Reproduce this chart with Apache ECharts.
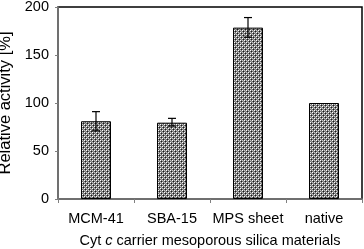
<!DOCTYPE html>
<html><head><meta charset="utf-8">
<script src="https://cdn.jsdelivr.net/npm/echarts@6/dist/echarts.min.js"></script>
<style>html,body{margin:0;padding:0;background:#fff}#c{width:364px;height:249px}</style>
</head><body><div id="c"></div>
<script>
var categories = ['MCM-41', 'SBA-15', 'MPS sheet', 'native'];
var activity = [81, 79.5, 178.5, 100];
var errLow = [71, 76, 168.5, null];
var errHigh = [91, 84, 189, null];
var yTicks = [0, 50, 100, 150, 200];

// checkered fill pattern
var pc = document.createElement('canvas');
pc.width = 4; pc.height = 4;
var ctx = pc.getContext('2d');
var pal = [
  ['#ffffff', '#707070', '#c8c8c8', '#707070'],
  ['#707070', '#1a1a1a', '#707070', '#a0a0a0'],
  ['#c8c8c8', '#707070', '#ffffff', '#707070'],
  ['#707070', '#a0a0a0', '#707070', '#1a1a1a']
];
for (var i = 0; i < 4; i++) for (var j = 0; j < 4; j++) { ctx.fillStyle = pal[i][j]; ctx.fillRect(j, i, 1, 1); }

var errData = [];
for (var k = 0; k < categories.length; k++) {
  if (errLow[k] != null) errData.push([k, errLow[k], errHigh[k]]);
}

var chart = echarts.init(document.getElementById('c'), null, {renderer: 'canvas'});
chart.setOption({
  animation: false,
  grid: {left: 58, right: 2, top: 7, bottom: 50, outerBoundsMode: 'none', containLabel: false, show: true, borderColor: '#000', borderWidth: 1.5, backgroundColor: 'transparent'},
  xAxis: {
    type: 'category', data: categories,
    axisLine: {lineStyle: {color: '#808080', width: 1.5}},
    axisTick: {show: true, length: 4, lineStyle: {color: '#808080'}},
    axisLabel: {color: '#000', fontSize: 14.5, fontFamily: 'Liberation Sans', margin: 12, interval: 0},
    name: '{n|Cyt }{i|c}{n| carrier mesoporous silica materials}',
    nameLocation: 'middle', nameGap: 34,
    nameTextStyle: {rich: {n: {fontSize: 14.5, fontFamily: 'Liberation Sans', color: '#000'}, i: {fontSize: 14.5, fontFamily: 'Liberation Sans', fontStyle: 'italic', color: '#000'}}}
  },
  yAxis: {
    type: 'value', min: 0, max: 200, interval: 50,
    splitLine: {show: false},
    axisLine: {show: true, lineStyle: {color: '#808080', width: 1.5}},
    axisTick: {show: true, length: 3, lineStyle: {color: '#808080'}},
    axisLabel: {color: '#000', fontSize: 14.5, fontFamily: 'Liberation Sans', margin: 9},
    name: 'Relative activity [%]', nameLocation: 'middle', nameGap: 37,
    nameTextStyle: {color: '#000', fontSize: 16.5, fontFamily: 'Liberation Sans'}
  },
  series: [{
    type: 'bar', data: activity, barWidth: 30,
    itemStyle: {color: {image: pc, repeat: 'repeat'}, borderColor: '#000', borderWidth: 1}
  }, {
    type: 'custom', data: errData,
    renderItem: function (params, api) {
      var x = api.value(0);
      var lo = api.coord([x, api.value(1)]);
      var hi = api.coord([x, api.value(2)]);
      var hw = 4;
      var st = {stroke: '#000', lineWidth: 1.2};
      return {type: 'group', children: [
        {type: 'line', shape: {x1: lo[0], y1: lo[1], x2: hi[0], y2: hi[1]}, style: st},
        {type: 'line', shape: {x1: lo[0] - hw, y1: lo[1], x2: lo[0] + hw, y2: lo[1]}, style: st},
        {type: 'line', shape: {x1: hi[0] - hw, y1: hi[1], x2: hi[0] + hw, y2: hi[1]}, style: st}
      ]};
    },
    z: 5
  }]
});
</script></body></html>
